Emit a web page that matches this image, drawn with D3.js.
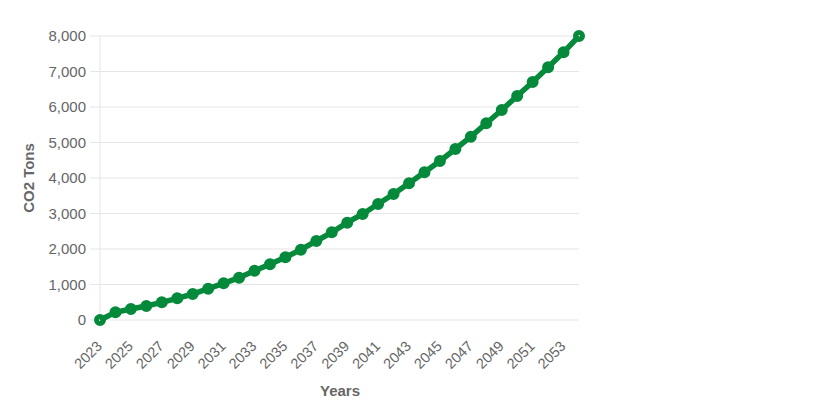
<!DOCTYPE html>
<html><head><meta charset="utf-8">
<script src="https://cdn.jsdelivr.net/npm/d3@7"></script>
<style>body{margin:0;background:#fff;} text{font-family:"Liberation Sans",Arial,sans-serif;}</style>
</head><body>
<svg id="c" width="838" height="417"></svg>
<script>
const years = d3.range(2023, 2055);
const co2Tons = [0, 217, 310, 394, 498, 611, 732, 882, 1033, 1192, 1389, 1568, 1766, 1981, 2225, 2469,
  2741, 2986, 3268, 3549, 3850, 4160, 4479, 4817, 5164, 5541, 5915, 6310, 6704, 7118, 7541, 8000];
const yTicks = [0, 1000, 2000, 3000, 4000, 5000, 6000, 7000, 8000];
const xTickLabels = years.filter((y, i) => i % 2 === 0);

const svg = d3.select("#c");
const pLeft = 100, pRight = 579, pTop = 36, pBottom = 320;
const x = d3.scalePoint().domain(years).range([pLeft, pRight]);
const y = d3.scaleLinear().domain([0, 8000]).range([pBottom, pTop]);
const color = "#058a3b", grid = "#e5e5e5", txt = "#666";
const fs = 15;

// horizontal grid + y tick marks
svg.append("g").selectAll("line").data(yTicks).join("line")
  .attr("x1", pLeft - 10).attr("x2", pRight)
  .attr("y1", d => y(d)).attr("y2", d => y(d))
  .attr("stroke", grid).attr("stroke-width", 1);
// y axis line
svg.append("line").attr("x1", pLeft).attr("x2", pLeft).attr("y1", pTop).attr("y2", pBottom)
  .attr("stroke", grid);

// y labels
svg.append("g").selectAll("text").data(yTicks).join("text")
  .attr("x", pLeft - 14).attr("y", d => y(d)).attr("dy", "0.36em")
  .attr("text-anchor", "end").attr("font-size", fs).attr("fill", txt)
  .text(d => d3.format(",")(d));

// x labels
svg.append("g").selectAll("text").data(xTickLabels).join("text")
  .attr("text-anchor", "end").attr("font-size", 14.5).attr("fill", txt)
  .attr("transform", d => `translate(${x(d) + 3},${pBottom + 27}) rotate(-45)`)
  .text(d => d);

// axis titles
svg.append("text").attr("x", 340).attr("y", 396)
  .attr("text-anchor", "middle").attr("font-size", fs).attr("font-weight", "bold").attr("fill", txt)
  .text("Years");
svg.append("text").attr("transform", `translate(34,${(pTop + pBottom) / 2}) rotate(-90)`)
  .attr("text-anchor", "middle").attr("font-size", fs).attr("font-weight", "bold").attr("fill", txt)
  .text("CO2 Tons");

const pts = years.map((yr, i) => [yr, co2Tons[i]]);
// points
svg.append("g").selectAll("circle").data(pts).join("circle")
  .attr("cx", d => x(d[0])).attr("cy", d => y(d[1])).attr("r", 3.5)
  .attr("fill", "#fff").attr("stroke", color).attr("stroke-width", 5);
// line
svg.append("path").datum(pts)
  .attr("d", d3.line().x(d => x(d[0])).y(d => y(d[1])))
  .attr("fill", "none").attr("stroke", color).attr("stroke-width", 5.5);
</script>
</body></html>
